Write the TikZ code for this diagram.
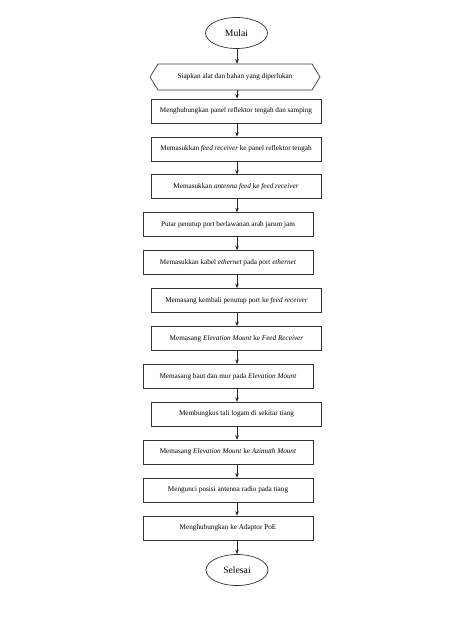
\documentclass[tikz,border=0pt]{standalone}
\usepackage{fontspec}
\setmainfont{Liberation Serif}
\usetikzlibrary{shapes.geometric,shapes.symbols,arrows.meta}
\tikzset{
  boxnode/.style={draw=black!80, line width=0.7pt, minimum width=170pt, minimum height=24pt, inner sep=0pt, align=center, font=\fontsize{7.2}{8.5}\selectfont},
  hexnode/.style={draw=black!80, line width=0.7pt, signal, signal to=west and east, signal pointer angle=117, minimum width=170pt, minimum height=26pt, inner sep=0pt, font=\fontsize{7.2}{8.5}\selectfont},
  termnode/.style={draw=black!80, line width=0.7pt, ellipse, minimum width=62pt, minimum height=31pt, inner sep=0pt, font=\fontsize{9.7}{11}\selectfont},
  flow/.style={draw=black!85, line width=0.7pt, -{Stealth[length=4.5pt,width=3.6pt]}}
}
\begin{document}
\begin{tikzpicture}[x=1pt,y=-1pt]
\useasboundingbox (0,0) rectangle (474,632);
\coordinate (ax) at (237,0);
\node[termnode] (start) at (236.5,33) {Mulai};
\node[hexnode] (prep) at (235,77) {Siapkan alat dan bahan yang diperlukan};
\node[boxnode] (b1) at (236,111) {Menghubungkan panel reflektor tengah dan samping};
\node[boxnode] (b2) at (236,148.9) {Memasukkan \textit{feed receiver} ke panel reflektor tengah};
\node[boxnode] (b3) at (236,186.8) {Memasukkan \textit{antenna feed} ke \textit{feed receiver}};
\node[boxnode] (b4) at (228,224.7) {Putar penutup port berlawanan arah jarum jam};
\node[boxnode] (b5) at (228,262.6) {Memasukkan kabel \textit{ethernet} pada port \textit{ethernet}};
\node[boxnode] (b6) at (236.5,300.5) {Memasang kembali penutup port ke \textit{feed receiver}};
\node[boxnode] (b7) at (236.5,338.4) {Memasang \textit{Elevation Mount} ke \textit{Feed Receiver}};
\node[boxnode] (b8) at (228,376.3) {Memasang baut dan mur pada \textit{Elevation Mount}};
\node[boxnode] (b9) at (236.5,414.2) {Membungkus tali logam di sekitar tiang};
\node[boxnode] (b10) at (228,452.1) {Memasang \textit{Elevation Mount} ke \textit{Azimuth Mount}};
\node[boxnode] (b11) at (228,490) {Mengunci posisi antenna radio pada tiang};
\node[boxnode] (b12) at (228,528) {Menghubungkan ke Adaptor PoE};
\node[termnode] (end) at (237,570) {Selesai};
\draw[flow] (start.south -| ax) -- (prep.north -| ax);
\draw[flow] (prep.south -| ax) -- (b1.north -| ax);
\foreach \a/\b in {b1/b2,b2/b3,b3/b4,b4/b5,b5/b6,b6/b7,b7/b8,b8/b9,b9/b10,b10/b11,b11/b12}
  \draw[flow] (\a.south -| ax) -- (\b.north -| ax);
\draw[flow] (b12.south -| ax) -- (end.north -| ax);
\end{tikzpicture}
\end{document}
